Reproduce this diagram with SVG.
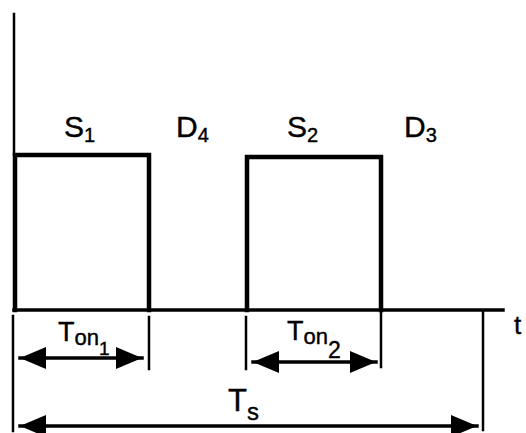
<svg xmlns="http://www.w3.org/2000/svg" width="526" height="433" viewBox="0 0 526 433">
<style>
.ln{stroke:#000;fill:none;stroke-linecap:square}
.thick{stroke-width:4.5}
.med{stroke-width:3.5}
.thin{stroke-width:2.5}
.lbl{font-family:"Liberation Sans",Arial,sans-serif;fill:#000;stroke:#000;stroke-width:0.4}
</style>
<defs>
<marker id="ah" markerUnits="userSpaceOnUse" markerWidth="28" markerHeight="24" refX="26" refY="12" orient="auto-start-reverse">
<path d="M0,1 L26,12 L0,23 Z" fill="#000"/>
</marker>
</defs>
<rect width="526" height="433" fill="#fff"/>
<g id="axes">
<line class="ln thin" x1="14" y1="14" x2="14" y2="155"/>
<line class="ln med" x1="14" y1="310" x2="503" y2="310"/>
</g>
<g id="pulse1">
<polyline class="ln thick" points="15,310 15,155 149,155 149,310"/>
</g>
<g id="pulse2">
<polyline class="ln thick" points="247,310 247,157 381,157 381,310"/>
</g>
<g id="connectors">
<line class="ln thin" x1="13" y1="316" x2="13" y2="431"/>
<line class="ln thin" x1="149" y1="317" x2="149" y2="369"/>
<line class="ln thin" x1="246" y1="317" x2="246" y2="369"/>
<line class="ln thin" x1="381" y1="311" x2="381" y2="367"/>
<line class="ln thin" x1="483" y1="311" x2="483" y2="430"/>
<line class="ln med" x1="20" y1="358" x2="142" y2="358" marker-start="url(#ah)" marker-end="url(#ah)"/>
<line class="ln med" x1="253" y1="362" x2="376" y2="362" marker-start="url(#ah)" marker-end="url(#ah)"/>
<line class="ln med" x1="20" y1="426" x2="477" y2="426" marker-start="url(#ah)" marker-end="url(#ah)"/>
</g>
<g id="labels" class="lbl">
<text x="64" y="137" font-size="30">S<tspan font-size="20" dy="5">1</tspan></text>
<text x="176" y="137" font-size="30">D<tspan font-size="20" dy="5">4</tspan></text>
<text x="287" y="137" font-size="30">S<tspan font-size="20" dy="5">2</tspan></text>
<text x="404" y="137" font-size="30">D<tspan font-size="20" dy="5">3</tspan></text>
<text x="58" y="341" font-size="27">T<tspan font-size="22" dy="4">on</tspan><tspan font-size="19" dy="10">1</tspan></text>
<text x="287" y="340" font-size="27">T<tspan font-size="22" dy="4">on</tspan><tspan font-size="23" dy="14">2</tspan></text>
<text x="228" y="411" font-size="31">T<tspan font-size="24" dy="9">s</tspan></text>
<text x="514" y="334" font-size="26">t</text>
</g>
</svg>
